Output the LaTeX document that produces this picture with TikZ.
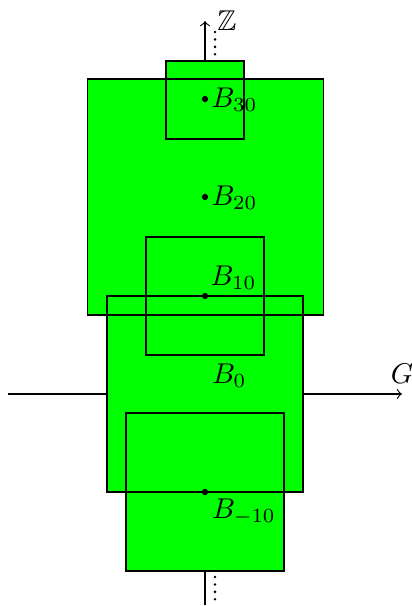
\documentclass[tikz,border=0pt]{standalone}
\usepackage{amssymb}
\tikzset{
  sqfill/.style={rectangle, fill={rgb,255:red,0;green,255;blue,0}, draw=none, inner sep=0pt, outer sep=0pt},
  sqline/.style={draw=black, line width=0.4pt},
  axis/.style={draw=black, line width=0.4pt},
  pt/.style={circle, fill=black, inner sep=0pt, minimum size=2.2pt},
  lbl/.style={inner sep=0pt, anchor=base west},
  vdot/.style={draw=black, line width=1pt, line cap=round, dash pattern=on 0pt off 2.6pt}
}
\begin{document}
\begin{tikzpicture}[x=0.35pt, y=-0.35pt]
\useasboundingbox (0,0) rectangle (411,606);
% axes
\coordinate (yb) at (205,605);
\coordinate (yt) at (205,21);
\coordinate (xl) at (8,394);
\coordinate (xr) at (402,394);
\draw[axis,->] (yb) -- (yt);
\draw[axis,->] (xl) -- (xr);
\node[anchor=west] (zlab) at ([xshift=0.8pt]yt) {$\mathbb{Z}$};
\node[anchor=south] (glab) at (xr) {$G$};
% fills
\node[sqfill, minimum size=82.6pt] (s20) at (205.5,197) {};
\node[sqfill, minimum size=27.3pt] (s30) at (205,100) {};
\node[sqfill, minimum size=41.3pt] (s10) at (205,296) {};
\node[sqfill, minimum size=68.6pt] (s0) at (205,394) {};
\node[sqfill, minimum size=55.3pt] (sm10) at (205,492) {};
% outlines
\draw[sqline] (s20.south west) rectangle (s20.north east);
\draw[sqline] (s30.south west) rectangle (s30.north east);
\draw[sqline] (s10.south west) rectangle (s10.north east);
\draw[sqline] (s0.south west) rectangle (s0.north east);
\draw[sqline] (sm10.south west) rectangle (sm10.north east);
% points
\node[pt] (p30) at (205,99) {};
\node[pt] (p20) at (205,197) {};
\node[pt] (p10) at (205,296) {};
\node[pt] (pm10) at (205,492) {};
% labels
\node[lbl] (l30) at (211,107.5) {$B_{30}$};
\node[lbl] (l20) at (211,205.5) {$B_{20}$};
\node[lbl] (l10) at (210,285.7) {$B_{10}$};
\node[lbl] (l0) at (211.5,383.3) {$B_{0}$};
\node[lbl] (lm10) at (211.5,518.3) {$B_{-10}$};
% dots
\coordinate (dt1) at (215,32);
\coordinate (dt2) at (215,55);
\coordinate (db1) at (215,577);
\coordinate (db2) at (215,601);
\draw[vdot] (dt1) -- (dt2);
\draw[vdot] (db1) -- (db2);
\end{tikzpicture}
\end{document}
